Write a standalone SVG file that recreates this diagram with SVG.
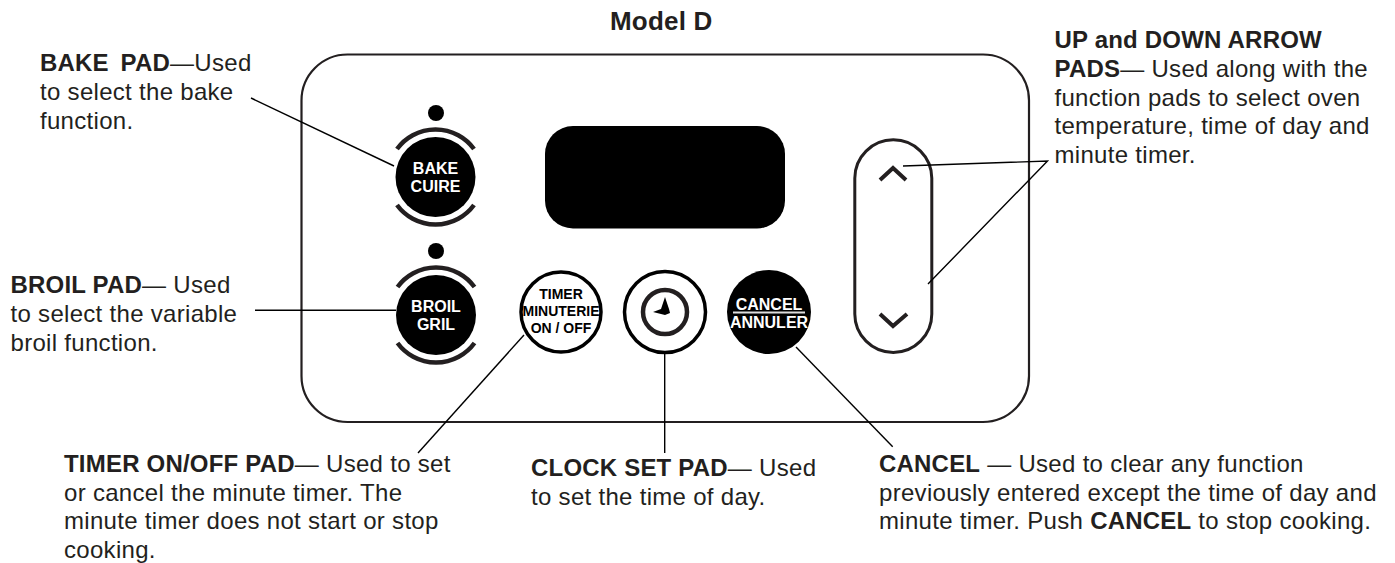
<svg xmlns="http://www.w3.org/2000/svg" width="1395" height="563" viewBox="0 0 1395 563">
<style>
text{font-family:"Liberation Sans",Arial,sans-serif;font-size:24px;fill:#231f20}
.t{letter-spacing:.3px}
.b{font-weight:bold;letter-spacing:.2px}
.p{font-weight:bold;font-size:16px;fill:#fff;text-anchor:middle}
.k{font-weight:bold;font-size:14px;fill:#000;text-anchor:middle}
.arc{fill:none;stroke:#231f20;stroke-width:4.500}
.c{fill:none;stroke:#000;stroke-width:1.400}
</style>
<rect width="1395" height="563" fill="#fff"/>
<text class="b" x="610" y="30" style="font-size:26px">Model D</text>
<g id="panel"><rect x="301.500" y="54.500" width="727.500" height="367.500" rx="46" fill="none" stroke="#231f20" stroke-width="2.200"/></g>
<g id="display"><rect x="545" y="126" width="240" height="102.500" rx="28" fill="#000"/></g>
<g id="bake-pad">
<circle cx="436" cy="113" r="8" fill="#000"/>
<path class="arc" d="M397 149A47.700 47.700 0 0 1 474 149M397 205A47.700 47.700 0 0 0 474 205"/>
<circle cx="435.500" cy="177" r="40" fill="#000"/>
<text class="p" x="435.500" y="174">BAKE</text><text class="p" x="435.500" y="192">CUIRE</text>
</g>
<g id="broil-pad">
<circle cx="436" cy="251" r="8" fill="#000"/>
<path class="arc" d="M397.500 287A47.700 47.700 0 0 1 474.500 287M397.500 343A47.700 47.700 0 0 0 474.500 343"/>
<circle cx="436" cy="315" r="40" fill="#000"/>
<text class="p" x="436" y="312">BROIL</text><text class="p" x="436" y="330">GRIL</text>
</g>
<g id="timer-pad">
<circle cx="561" cy="312" r="40" fill="#fff" stroke="#000" stroke-width="3.500"/>
<text class="k" x="561" y="299">TIMER</text><text class="k" x="561" y="316">MINUTERIE</text><text class="k" x="561" y="333">ON / OFF</text>
</g>
<g id="clock-pad">
<circle cx="665" cy="312" r="40.500" fill="#fff" stroke="#000" stroke-width="3.500"/>
<circle cx="665" cy="312" r="22" fill="none" stroke="#231f20" stroke-width="4.500"/>
<path d="M665 297L669 309L670 313L665 315L653 312L661 309Z" fill="#000"/>
</g>
<g id="cancel-pad">
<circle cx="769" cy="312" r="42" fill="#000"/>
<text class="p" x="769" y="310">CANCEL</text>
<rect x="733" y="311.500" width="72" height="2" fill="#ddd"/>
<text class="p" x="769" y="328">ANNULER</text>
</g>
<g id="arrow-pads">
<rect x="854.800" y="139.800" width="77" height="212.600" rx="38.500" fill="none" stroke="#231f20" stroke-width="3"/>
<path d="M880 180L893 168L906 180M880 314L893 326L907 314" fill="none" stroke="#231f20" stroke-width="4"/>
</g>
<g id="connectors">
<line class="c" x1="251" y1="98" x2="394" y2="166"/>
<line class="c" x1="255" y1="310.300" x2="396" y2="310.300"/>
<line class="c" x1="418" y1="453" x2="524" y2="335"/>
<line class="c" x1="664.700" y1="353" x2="664.700" y2="453"/>
<line class="c" x1="796" y1="347" x2="892.700" y2="446.700"/>
<polyline class="c" points="903,166 1047.500,161 928,284"/>
</g>
<g id="labels">
<text class="t" x="40" y="71"><tspan class="b">BAKE</tspan><tspan class="b" x="120.500">PAD</tspan>—Used</text><text class="t" x="40" y="100">to select the bake</text><text class="t" x="40" y="129">function.</text>
<text class="t" x="10.500" y="293"><tspan class="b">BROIL PAD</tspan>— Used</text><text class="t" x="10.500" y="322">to select the variable</text><text class="t" x="10.500" y="351">broil function.</text>
<text class="t" x="64" y="472"><tspan class="b">TIMER ON/OFF PAD</tspan>— Used to set</text><text class="t" x="64" y="501">or cancel the minute timer. The</text><text class="t" x="64" y="529">minute timer does not start or stop</text><text class="t" x="64" y="558">cooking.</text>
<text class="t" x="531" y="476"><tspan class="b">CLOCK SET PAD</tspan>— Used</text><text class="t" x="531" y="505">to set the time of day.</text>
<text class="t" x="879" y="472"><tspan class="b">CANCEL</tspan> — Used to clear any function</text><text class="t" x="879" y="501">previously entered except the time of day and</text><text class="t" x="879" y="529">minute timer. Push <tspan class="b">CANCEL</tspan> to stop cooking.</text>
<text class="b" x="1054.500" y="48">UP and DOWN ARROW</text><text class="t" x="1054.500" y="77"><tspan class="b">PADS</tspan>— Used along with the</text><text class="t" x="1054.500" y="106">function pads to select oven</text><text class="t" x="1054.500" y="134">temperature, time of day and</text><text class="t" x="1054.500" y="163">minute timer.</text>
</g>
</svg>
